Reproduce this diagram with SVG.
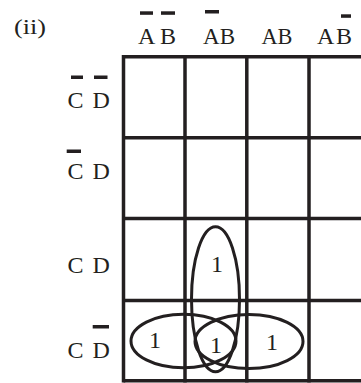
<svg xmlns="http://www.w3.org/2000/svg" width="361" height="383" viewBox="0 0 361 383">
<style>
text{font-family:"Liberation Serif","Times New Roman",serif;font-size:24px;fill:#231f20}
.g{stroke:#231f20;stroke-width:3.5;fill:none}
.e{stroke:#231f20;stroke-width:3;fill:none}
.bar{fill:#231f20}
</style>
<rect width="361" height="383" fill="#fff"/>
<text id="title" x="14" y="34" style="font-size:22px" textLength="32" lengthAdjust="spacingAndGlyphs">(ii)</text>
<g id="col-headers">
<g id="h1"><text x="138" y="43.5">A</text><text x="160" y="43.5">B</text><rect class="bar" x="140" y="11.3" width="13" height="3.5"/><rect class="bar" x="161" y="11.3" width="14" height="3.5"/></g>
<g id="h2"><text x="203" y="43.5" textLength="32" lengthAdjust="spacingAndGlyphs">AB</text><rect class="bar" x="205" y="10" width="14" height="3.5"/></g>
<g id="h3"><text x="261.5" y="43.5" textLength="31" lengthAdjust="spacingAndGlyphs">AB</text></g>
<g id="h4"><text x="317" y="43.5">A</text><text x="336" y="43.5">B</text><rect class="bar" x="341" y="14.3" width="10" height="3.5"/></g>
</g>
<g id="row-headers">
<g id="r1"><text x="67.5" y="108">C</text><text x="92.5" y="108">D</text><rect class="bar" x="71" y="75.5" width="12" height="3.5"/><rect class="bar" x="94" y="75.5" width="13.5" height="3.5"/></g>
<g id="r2"><text x="67.5" y="179">C</text><text x="92.5" y="179">D</text><rect class="bar" x="66.7" y="149.5" width="14.3" height="3.5"/></g>
<g id="r3"><text x="67.5" y="272.7">C</text><text x="92.5" y="272.7">D</text></g>
<g id="r4"><text x="67.5" y="358.3">C</text><text x="92.5" y="358.3">D</text><rect class="bar" x="92.7" y="325" width="16.3" height="3.5"/></g>
</g>
<g id="grid" class="g">
<path d="M123.5 56.7H373M123.5 137.7H373M123.5 218.5H373M123.5 300.5H373M123.5 380.7H373"/>
<path d="M123.5 55V382.4M185 55V382.4M246.8 55V382.4M309 55V382.4M371 55V382.4"/>
</g>
<g id="cells">
<text x="217" y="271.7" text-anchor="middle">1</text>
<text x="155" y="348" text-anchor="middle">1</text>
<text x="216" y="353" text-anchor="middle">1</text>
<text x="272" y="350" text-anchor="middle">1</text>
</g>
<g id="loops" class="e">
<ellipse cx="215.5" cy="299.2" rx="24" ry="72.5"/>
<ellipse cx="183.5" cy="341" rx="52.5" ry="26.8"/>
<ellipse cx="249" cy="341.5" rx="54" ry="27"/>
</g>
</svg>
